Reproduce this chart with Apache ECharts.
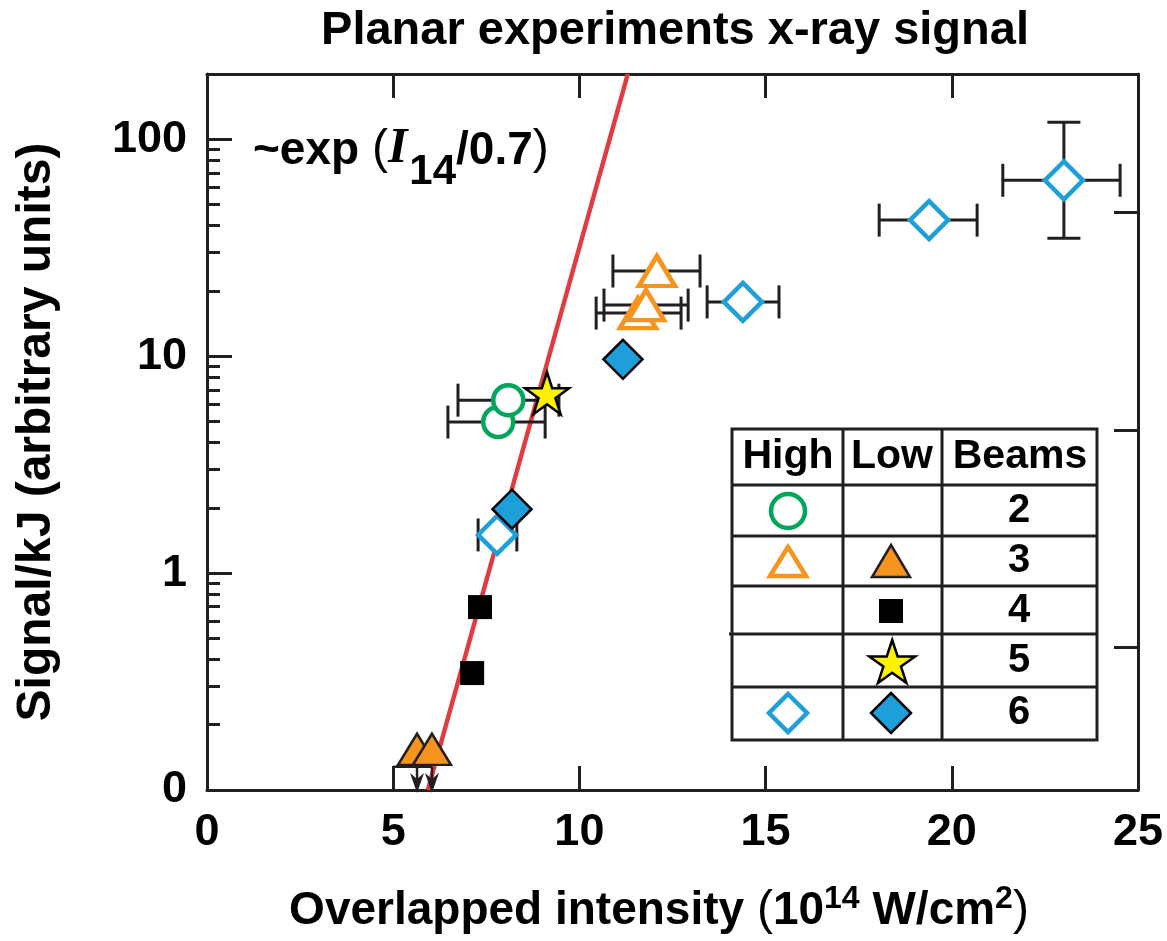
<!DOCTYPE html>
<html>
<head>
<meta charset="utf-8">
<script src="https://cdn.jsdelivr.net/npm/echarts@6/dist/echarts.min.js"></script>
<style>html,body{margin:0;padding:0;background:#fff}#c{width:1167px;height:941px}</style>
</head>
<body>
<div id="c"></div>
<script>
// ---------- data ----------
const xTicks = [0, 5, 10, 15, 20, 25];
const yMajorTicks = [0.1, 1, 10, 100];
const yMinorTicks = [0.2,0.3,0.4,0.5,0.6,0.7,0.8,0.9, 2,3,4,5,6,7,8,9, 20,30,40,50,60,70,80,90];
const yRightTicks = [0.456, 4.56, 46.2];
const yTickLabels = ['0', '1', '10', '100'];

// High intensity (open symbols)
const high2 = [[7.82, 4.97], [8.09, 6.27]];               // 2 beams, circles
const high2XRange = [[6.47, 9.08], [6.74, 9.45]];
const high3 = [[11.57, 15.8], [11.79, 17.2], [12.08, 24.7]]; // 3 beams, triangles
const high3XRange = [[10.45, 12.73], [10.66, 12.92], [10.90, 13.24]];
const high6 = [[7.79, 1.50], [14.39, 17.8], [19.39, 42.4], [23.01, 64.7]]; // 6 beams, diamonds
const high6XRange = [[7.28, 8.32], [13.43, 15.36], [18.05, 20.68], [21.37, 24.52]];
const high6YRange = [[null, null], [null, null], [null, null], [35.0, 119.7]];

// Low intensity (filled symbols)
const low3 = [[5.64, 0.154], [6.04, 0.154]];   // 3 beams, upper limits
const low3LimitTop = [0.128, 0.128];
const low3Bracket = [[5.0, 6.04, 0.128]];
const low4 = [[7.12, 0.346], [7.33, 0.697]];   // 4 beams, squares
const low5 = [[9.13, 6.75]];                   // 5 beams, star
const low6 = [[8.19, 1.97], [11.17, 9.68]];    // 6 beams, diamonds

// fit line ~exp(I14/0.7)
const fitLine = [[5.93, 0.1], [11.30, 200]];

const legendHeader = ['High', 'Low', 'Beams'];
const legendBeams = ['2', '3', '4', '5', '6'];
const legendHigh = ['openCircle', 'openTri', null, null, 'openDia'];
const legendLow = [null, 'fillTri', 'square', 'star', 'fillDia'];

// ---------- styling ----------
const INK = '#231F20';
const GREEN = '#00A65A';
const ORANGE = '#F7941D';
const BLUE = '#1E9FDA';
const YELLOW = '#FFF200';
const RED = '#E23B3F';
const FONT = '"Liberation Sans", Arial, Helvetica, sans-serif';
const SERIF = '"Liberation Serif", "Times New Roman", serif';
const STAR_PTS = [[50,0],[61.23,34.55],[97.55,34.55],[68.17,55.9],[79.39,90.45],[50,69.1],[20.61,90.45],[31.83,55.9],[2.45,34.55],[38.77,34.55]];
const STAR_PATH = 'path://M' + STAR_PTS.map(p => p.join(' ')).join(' L') + ' Z';

function withRange(pts, ranges) {
  return pts.map((p, i) => [p[0], p[1], ranges[i][0], ranges[i][1]]).filter(d => d[2] != null);
}
const xErrData = [].concat(withRange(high2, high2XRange), withRange(high3, high3XRange), withRange(high6, high6XRange));
const yErrData = withRange(high6, high6YRange);

const CAP = 16.5;
function xErrRender(params, api) {
  const y = api.value(1), lo = api.value(2), hi = api.value(3);
  const a = api.coord([lo, y]), b = api.coord([hi, y]);
  const st = {stroke: INK, lineWidth: 3};
  return {type: 'group', children: [
    {type: 'line', shape: {x1: a[0], y1: a[1], x2: b[0], y2: b[1]}, style: st},
    {type: 'line', shape: {x1: a[0], y1: a[1] - CAP, x2: a[0], y2: a[1] + CAP}, style: st},
    {type: 'line', shape: {x1: b[0], y1: b[1] - CAP, x2: b[0], y2: b[1] + CAP}, style: st}
  ]};
}
function yErrRender(params, api) {
  const x = api.value(0), lo = api.value(2), hi = api.value(3);
  const a = api.coord([x, lo]), b = api.coord([x, hi]);
  const st = {stroke: INK, lineWidth: 3};
  return {type: 'group', children: [
    {type: 'line', shape: {x1: a[0], y1: a[1], x2: b[0], y2: b[1]}, style: st},
    {type: 'line', shape: {x1: a[0] - CAP, y1: a[1], x2: a[0] + CAP, y2: a[1]}, style: st},
    {type: 'line', shape: {x1: b[0] - CAP, y1: b[1], x2: b[0] + CAP, y2: b[1]}, style: st}
  ]};
}
function arrowRender(params, api) {
  const x = api.value(0), top = api.value(1);
  const t = api.coord([x, top]);
  const bottom = api.coord([x, 0.1])[1];
  const px = t[0];
  return {type: 'group', children: [
    {type: 'line', shape: {x1: px, y1: t[1], x2: px, y2: bottom - 10}, style: {stroke: INK, lineWidth: 2.5}},
    {type: 'polygon', shape: {points: [[px, bottom + 3], [px - 7, bottom - 17], [px, bottom - 11], [px + 7, bottom - 17]]}, style: {fill: INK}}
  ]};
}
function bracketRender(params, api) {
  const a = api.coord([api.value(0), api.value(2)]);
  const b = api.coord([api.value(1), api.value(2)]);
  return {type: 'line', shape: {x1: a[0], y1: a[1], x2: b[0], y2: b[1]}, style: {stroke: INK, lineWidth: 2.5}};
}

// ---------- legend table (graphic) ----------
function legendSymbol(kind, cx, cy) {
  switch (kind) {
    case 'openCircle': return {type: 'circle', shape: {cx, cy, r: 17}, style: {fill: '#fff', stroke: GREEN, lineWidth: 4.5}};
    case 'openTri': return {type: 'polygon', shape: {points: [[cx, cy - 14], [cx + 18, cy + 15], [cx - 18, cy + 15]]}, style: {fill: '#fff', stroke: ORANGE, lineWidth: 4.5, lineJoin: 'miter'}};
    case 'fillTri': return {type: 'polygon', shape: {points: [[cx, cy - 16], [cx + 19, cy + 16], [cx - 19, cy + 16]]}, style: {fill: ORANGE, stroke: INK, lineWidth: 2.5, lineJoin: 'miter'}};
    case 'square': return {type: 'rect', shape: {x: cx - 12, y: cy - 12, width: 24, height: 24}, style: {fill: '#000'}};
    case 'star': return {type: 'polygon', shape: {points: STAR_PTS.map(p => [cx - 23 + p[0] * 46 / 95.1, cy - 21 + p[1] * 43 / 90.45])}, style: {fill: YELLOW, stroke: '#000', lineWidth: 2.5, lineJoin: 'miter'}};
    case 'openDia': return {type: 'polygon', shape: {points: [[cx, cy - 19], [cx + 19, cy], [cx, cy + 19], [cx - 19, cy]]}, style: {fill: '#fff', stroke: BLUE, lineWidth: 4.5, lineJoin: 'miter'}};
    case 'fillDia': return {type: 'polygon', shape: {points: [[cx, cy - 20], [cx + 20, cy], [cx, cy + 20], [cx - 20, cy]]}, style: {fill: BLUE, stroke: '#000', lineWidth: 2.5, lineJoin: 'miter'}};
  }
  return null;
}
const T = {x0: 732, x1: 1097, y0: 429, y1: 740, cols: [843, 942], rows: [485, 536, 586, 634, 687]};
const colCenters = [788, 892, 1020];
const rowCenters = [511, 561, 611, 661, 713];
const tableEls = [];
tableEls.push({type: 'rect', shape: {x: T.x0, y: T.y0, width: T.x1 - T.x0, height: T.y1 - T.y0}, style: {fill: '#fff', stroke: INK, lineWidth: 3}});
T.cols.forEach(cx => tableEls.push({type: 'line', shape: {x1: cx, y1: T.y0, x2: cx, y2: T.y1}, style: {stroke: INK, lineWidth: 3}}));
T.rows.forEach((ry, i) => tableEls.push({type: 'line', shape: {x1: i === 3 ? T.x0 - 3 : T.x0, y1: ry, x2: T.x1, y2: ry}, style: {stroke: INK, lineWidth: 3}}));
legendHeader.forEach((h, i) => tableEls.push({type: 'text', x: colCenters[i], y: 457, style: {text: h, fill: '#000', font: 'bold 41px ' + FONT, textAlign: 'center', textVerticalAlign: 'middle'}}));
legendBeams.forEach((b, i) => {
  tableEls.push({type: 'text', x: 1019, y: rowCenters[i], style: {text: b, fill: '#000', font: 'bold 40px ' + FONT, textAlign: 'center', textVerticalAlign: 'middle'}});
  const hs = legendSymbol(legendHigh[i], colCenters[0], rowCenters[i]);
  if (hs) tableEls.push(hs);
  const ls = legendSymbol(legendLow[i], 891, rowCenters[i]);
  if (ls) tableEls.push(ls);
});

// ---------- annotation "~exp (I14/0.7)" laid out piece by piece ----------
const annoPieces = [
  {text: '~exp ', font: 'bold 46px ' + FONT, dy: 0},
  {text: '(', font: 'normal 48px ' + FONT, dy: 0},
  {text: 'I', font: 'italic bold 50px ' + SERIF, dy: 0},
  {text: '14', font: 'bold 42px ' + FONT, dy: 19},
  {text: '/0.7', font: 'bold 46px ' + FONT, dy: 0},
  {text: ')', font: 'normal 48px ' + FONT, dy: 0}
];
const measureCtx = document.createElement('canvas').getContext('2d');
const annoEls = [];
let annoX = 253;
const annoBaseline = 174;
annoPieces.forEach(p => {
  measureCtx.font = p.font;
  annoEls.push({type: 'text', x: annoX, y: annoBaseline + p.dy,
    style: {text: p.text, font: p.font, fill: '#000', textAlign: 'left', textVerticalAlign: 'bottom'}});
  annoX += measureCtx.measureText(p.text).width + (p.text === 'I' ? 2 : 0);
});

const axisLineStyle = {show: true, lineStyle: {color: INK, width: 3}};

const option = {
  animation: false,
  backgroundColor: '#fff',
  grid: {left: 207, right: 29, top: 74, bottom: 151, containLabel: false},
  xAxis: [
    {type: 'value', position: 'bottom', min: 0, max: 25, interval: 5,
     axisLine: Object.assign({onZero: false}, axisLineStyle),
     axisTick: {show: true, inside: true, length: 24, lineStyle: {color: INK, width: 3}},
     axisLabel: {show: true, margin: 20, color: '#000', fontSize: 45, fontWeight: 'bold', fontFamily: FONT,
                 formatter: v => (xTicks.indexOf(v) >= 0 ? String(v) : '')},
     splitLine: {show: false}},
    {type: 'value', position: 'top', min: 0, max: 25, interval: 5,
     axisLine: Object.assign({onZero: false}, axisLineStyle),
     axisTick: {show: true, inside: true, length: 24, lineStyle: {color: INK, width: 3}},
     axisLabel: {show: false}, splitLine: {show: false}}
  ],
  yAxis: [
    {type: 'log', logBase: 10, position: 'left', min: 0.1, max: 200,
     axisLine: Object.assign({onZero: false}, axisLineStyle),
     axisTick: {show: true, inside: true, length: 25, customValues: yMajorTicks, lineStyle: {color: INK, width: 3}},
     axisLabel: {show: true, margin: 20, color: '#000', fontSize: 45, fontWeight: 'bold', fontFamily: FONT,
                 customValues: yMajorTicks,
                 formatter: v => { const i = yMajorTicks.findIndex(t => Math.abs(Math.log10(v) - Math.log10(t)) < 1e-6); return i >= 0 ? yTickLabels[i] : ''; }},
     splitLine: {show: false}, minorTick: {show: false}},
    {type: 'log', logBase: 10, position: 'left', min: 0.1, max: 200,
     axisLine: {show: false},
     axisTick: {show: true, inside: true, length: 13, customValues: yMinorTicks, lineStyle: {color: INK, width: 3}},
     axisLabel: {show: false}, splitLine: {show: false}},
    {type: 'log', logBase: 10, position: 'right', min: 0.1, max: 200,
     axisLine: Object.assign({onZero: false}, axisLineStyle),
     axisTick: {show: true, inside: true, length: 24, customValues: yRightTicks, lineStyle: {color: INK, width: 3}},
     axisLabel: {show: false}, splitLine: {show: false}}
  ],
  series: [
    {type: 'line', name: 'fit', data: fitLine, showSymbol: false, symbol: 'none', silent: true,
     lineStyle: {color: RED, width: 4.5}, z: 1},
    {type: 'custom', name: 'xerr', data: xErrData, renderItem: xErrRender, encode: {x: [0, 2, 3], y: 1}, z: 2, silent: true},
    {type: 'custom', name: 'yerr', data: yErrData, renderItem: yErrRender, encode: {x: 0, y: [1, 2, 3]}, z: 2, silent: true},
    {type: 'custom', name: 'limits', data: low3.map((p, i) => [p[0], low3LimitTop[i]]), renderItem: arrowRender, encode: {x: 0, y: 1}, z: 2, clip: false, silent: true},
    {type: 'custom', name: 'bracket', data: low3Bracket, renderItem: bracketRender, encode: {x: [0, 1], y: 2}, z: 2, clip: false, silent: true},
    {type: 'scatter', name: 'Low 3', data: low3, symbol: 'triangle', symbolSize: [38, 31], z: 3, clip: false,
     itemStyle: {color: ORANGE, borderColor: INK, borderWidth: 2.5, borderJoin: 'miter', opacity: 1}},
    {type: 'scatter', name: 'Low 4', data: low4, symbol: 'rect', symbolSize: 24, z: 3,
     itemStyle: {color: '#000', opacity: 1}},
    {type: 'scatter', name: 'High 6', data: high6, symbol: 'diamond', symbolSize: [38, 38], z: 3,
     itemStyle: {color: '#fff', borderColor: BLUE, borderWidth: 4.5, borderJoin: 'miter', opacity: 1}},
    {type: 'scatter', name: 'Low 6', data: low6, symbol: 'diamond', symbolSize: [39, 39], z: 3,
     itemStyle: {color: BLUE, borderColor: '#000', borderWidth: 2.5, borderJoin: 'miter', opacity: 1}},
    {type: 'scatter', name: 'High 2', data: high2, symbol: 'circle', symbolSize: 30, z: 3,
     itemStyle: {color: '#fff', borderColor: GREEN, borderWidth: 4.5, opacity: 1}},
    {type: 'scatter', name: 'High 3', data: high3, symbol: 'triangle', symbolSize: [36, 30], z: 3,
     itemStyle: {color: '#fff', borderColor: ORANGE, borderWidth: 4.5, borderJoin: 'miter', opacity: 1}},
    {type: 'scatter', name: 'Low 5', data: low5, symbol: STAR_PATH, symbolSize: [44, 42], z: 3,
     itemStyle: {color: YELLOW, borderColor: '#000', borderWidth: 2.5, borderJoin: 'miter', opacity: 1}}
  ],
  graphic: [
    {type: 'text', x: 675, y: 31, style: {text: 'Planar experiments x-ray signal', fill: '#000', font: 'bold 47px ' + FONT, textAlign: 'center', textVerticalAlign: 'middle'}},
    {type: 'text', x: 37, y: 432, rotation: Math.PI / 2,
     style: {text: 'Signal/kJ (arbitrary units)', fill: '#000', font: 'bold 48px ' + FONT, textAlign: 'center', textVerticalAlign: 'middle'}},
    {type: 'text', x: 659, y: 911,
     style: {text: '{a|Overlapped intensity }{p|(}{a|10}{u|14}{a| W/cm}{u|2}{p|)}', textAlign: 'center', textVerticalAlign: 'middle',
       rich: {
         a: {fontSize: 46, fontWeight: 'bold', fontFamily: FONT, fill: '#000', color: '#000', lineHeight: 56},
         p: {fontSize: 48, fontWeight: 'normal', fontFamily: FONT, fill: '#000', color: '#000', lineHeight: 56},
         u: {fontSize: 32, fontWeight: 'bold', fontFamily: FONT, fill: '#000', color: '#000', lineHeight: 36, verticalAlign: 'top'}
       }}},
    {type: 'group', children: annoEls},
    {type: 'group', children: tableEls}
  ]
};

const chart = echarts.init(document.getElementById('c'), null, {renderer: 'canvas'});
chart.setOption(option);
</script>
</body>
</html>
